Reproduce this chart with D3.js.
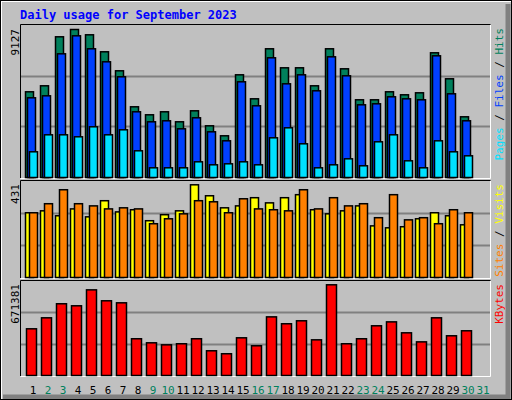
<!DOCTYPE html>
<html><head><meta charset="utf-8">
<script src="https://cdn.jsdelivr.net/npm/d3@7"></script>
<style>body{margin:0;background:#fff}svg{display:block}</style>
</head><body>
<svg id="chart" width="512" height="400"></svg>
<script>
// values
var days = d3.range(1, 32);
var weekend = [2, 3, 9, 10, 16, 17, 23, 24, 30, 31];
var hits = [5285,5655,8677,9127,8800,7752,6580,4360,3867,4052,3435,4113,3188,2572,6333,4853,7937,6765,6765,5655,7937,6703,4792,4792,5285,5100,5223,7690,6087,3743,0];
var files = [4915,5038,7628,8738,7937,7135,6210,4052,3435,3497,3003,3682,2818,2263,5902,4422,7382,5778,6333,5347,7443,6272,4483,4545,4977,4853,4792,7505,5162,3497,0];
var pages = [1585,2633,2633,2510,3127,2633,2942,1647,598,598,598,968,783,845,968,783,2448,3065,2078,598,783,1153,722,2202,2633,1030,598,2263,1585,1338,0];
var visits = [301,310,287,319,282,357,305,315,264,292,310,431,380,324,333,371,347,371,385,315,296,310,333,240,231,236,273,301,287,245,0];
var sites = [301,343,408,343,333,319,324,319,250,273,296,357,352,301,366,319,315,310,408,319,371,333,343,278,385,268,278,250,315,301,0];
var kbytes = [345700,427000,531000,516000,634000,553000,538000,272000,242000,227000,235000,272000,183000,161000,279000,220000,434000,383000,405000,264000,671381,235000,272000,368000,397000,316000,249000,427000,294000,331000,0];

var svg = d3.select("#chart");
var font = "'DejaVu Sans Mono', monospace";

// frame
svg.append("rect").attr("x",0).attr("y",0).attr("width",512).attr("height",400).attr("fill","#c0c0c0");
svg.append("path").attr("d","M1,399V1H511").attr("stroke","#fff").attr("stroke-width",2).attr("fill","none");
svg.append("path").attr("d","M3,397H508V4").attr("stroke","#808080").attr("stroke-width",5).attr("fill","none");
svg.append("rect").attr("x",0.5).attr("y",0.5).attr("width",511).attr("height",399).attr("fill","none").attr("stroke","#000");

svg.append("text").attr("x",20).attr("y",19).attr("fill","#0000ff").attr("font-family",font)
  .attr("font-weight","bold").attr("font-size",12).text("Daily usage for September 2023");

var x = d3.scaleLinear().domain([1, 31]).range([25, 475]);

function panel(top, bottom, max, maxPx) {
  svg.append("path").attr("d","M20.5," + (bottom+1) + "V" + (top-0.5) + "H490.5")
    .attr("stroke","#000").attr("fill","none");
  svg.append("path").attr("d","M20.5," + (bottom+1.5) + "H490.5V" + top)
    .attr("stroke","#fff").attr("fill","none");
  var h = bottom - top;
  [1, 2].forEach(function (k) {
    var gy = Math.round(bottom - h * k / 3) + 0.5;
    svg.append("line").attr("x1",21).attr("x2",490).attr("y1",gy).attr("y2",gy)
      .attr("stroke","#808080").attr("stroke-width",2);
  });
  return d3.scaleLinear().domain([0, max]).range([bottom, bottom - maxPx]);
}

function bars(data, y, dx, w, colour) {
  svg.append("g").selectAll("rect").data(data).enter()
    .filter(function (d) { return d > 0; })
    .append("rect")
    .attr("x", function (d, i) { return x(days[data.indexOf(d) >= 0 ? i : i]) + dx + 0.5; })
    .attr("y", function (d) { return y(d) + 0.5; })
    .attr("width", w - 1)
    .attr("height", function (d) { return y.range()[0] - y(d); })
    .attr("fill", colour).attr("stroke", "#000").attr("stroke-width", 1.5);
}

function drawBars(data, y, dx, w, colour) {
  var g = svg.append("g");
  data.forEach(function (d, i) {
    if (d <= 0) return;
    g.append("rect").attr("x", x(days[i]) + dx + 0.5).attr("y", y(d) + 0.5)
      .attr("width", w - 1).attr("height", y.range()[0] - y(d))
      .attr("fill", colour).attr("stroke", "#000").attr("stroke-width", 1.5);
  });
}

function yLabel(txt, cx, top) {
  svg.append("text").attr("transform","translate(" + cx + "," + top + ") rotate(-90)")
    .attr("text-anchor","end").attr("font-family",font).attr("font-size",11).text(txt);
}

function sideLabel(parts, top) {
  var t = svg.append("text").attr("transform","translate(503," + top + ") rotate(-90)")
    .attr("text-anchor","end").attr("font-family",font).attr("font-size",11);
  parts.forEach(function (p) { t.append("tspan").attr("fill", p[1]).text(p[0]); });
}

// hits / files / pages
var y1 = panel(25, 177, 9127, 148);
drawBars(hits, y1, 0, 9, "#00805c");
drawBars(files, y1, 2, 9, "#0040ff");
drawBars(pages, y1, 4, 9, "#00e0ff");
yLabel("9127", 19, 29);
sideLabel([["Pages","#00e0ff"],[" / ","#000"],["Files","#0040ff"],[" / ","#000"],["Hits","#00805c"]], 28);

// visits / sites
var y2 = panel(181, 277, 431, 92.7);
drawBars(visits, y2, 0, 9, "#ffff00");
drawBars(sites, y2, 4, 9, "#ff8000");
yLabel("431", 19, 184);
sideLabel([["Sites","#ff8000"],[" / ","#000"],["Visits","#ffff00"]], 184);

// kbytes
var y3 = panel(281, 375, 671381, 90.7);
drawBars(kbytes, y3, 1, 11, "#ff0000");
yLabel("671381", 19, 284);
sideLabel([["KBytes","#ff0000"]], 284);

// day labels
svg.append("g").selectAll("text").data(days).enter().append("text")
  .attr("x", function (d) { return x(d) + 8; }).attr("y", 394)
  .attr("text-anchor","middle").attr("font-family",font).attr("font-size",11)
  .attr("fill", function (d) { return weekend.indexOf(d) >= 0 ? "#00805c" : "#000"; })
  .text(function (d) { return d; });
</script>
</body></html>
